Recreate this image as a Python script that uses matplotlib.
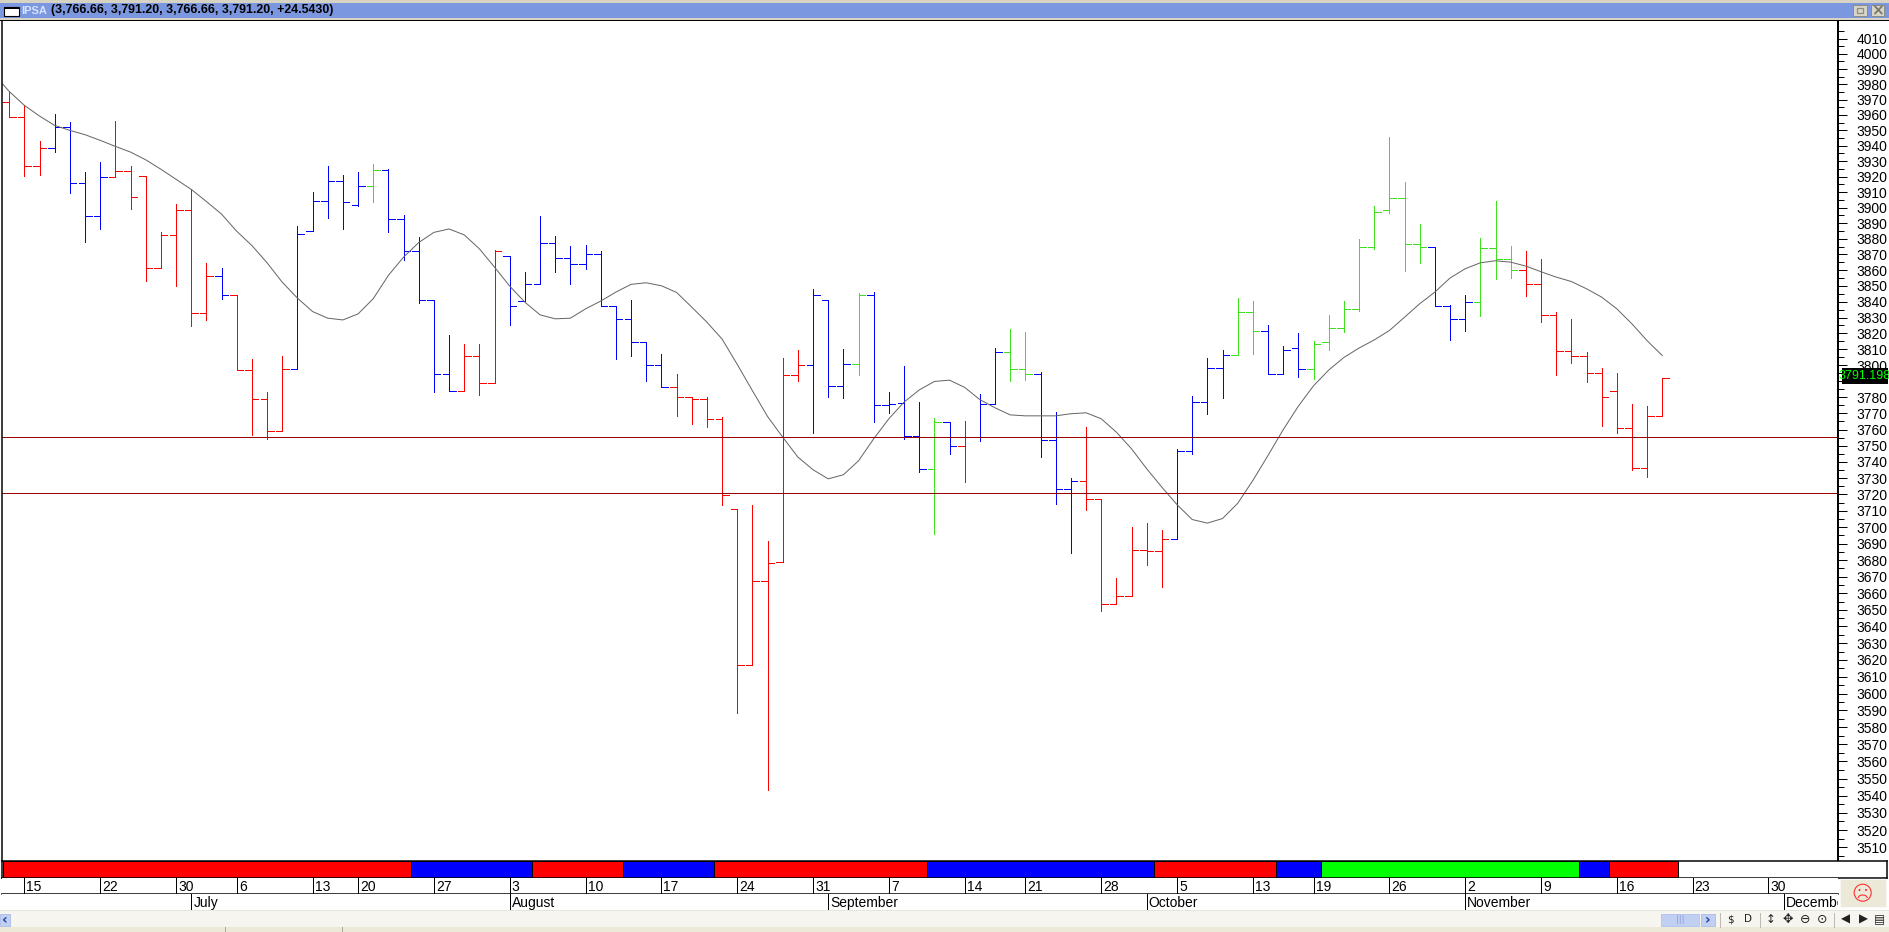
import numpy as np
import matplotlib
matplotlib.use("Agg")
import matplotlib.pyplot as plt
from matplotlib.patches import Rectangle, Circle, Arc
from matplotlib.ticker import FixedLocator, FuncFormatter, NullFormatter

# ---------- data ----------
opens = [3968.5,3958.8,3926.9,3938.6,3952.3,3915.8,3894.5,3919.7,3923.6,3920.6,
         3861.5,3882.5,3898.3,3833.0,3856.4,3844.4,3796.9,3779.0,3759.3,3797.5,
         3885.0,3904.1,3917.1,3901.5,3913.9,3924.3,3892.6,3872.3,3841.2,3794.4,
         3784.0,3805.7,3788.9,3868.9,3840.4,3851.4,3877.4,3867.9,3864.1,3870.4,
         3837.4,3829.2,3814.6,3800.0,3786.4,3780.2,3779.0,3766.7,3711.3,3617.0,
         3667.5,3679.0,3793.8,3800.0,3841.2,3787.0,3800.6,3844.4,3775.3,3776.5,
         3756.2,3735.8,3764.8,3750.0,np.nan,3775.9,3808.2,3797.5,3794.4,3753.7,
         3723.5,3728.4,3717.3,3653.7,3658.5,3686.2,3685.6,3692.8,3746.9,3777.2,
         3798.1,3806.3,3833.6,3821.6,3794.4,3810.8,3797.7,3814.8,3823.5,3835.5,
         3874.8,3898.3,3906.1,3876.7,3874.8,3837.4,3829.2,3840.0,3874.2,3867.2,
         3860.3,3851.0,3831.7,3808.9,3805.7,3795.1,3784.0,3761.1,3736.4,3768.1]
highs = [3974.8,3966.2,3942.7,3960.3,3955.5,3922.6,3929.7,3955.7,3926.5,3920.6,
         3884.6,3902.4,3911.9,3864.3,3861.7,3844.4,3804.0,3783.5,3805.9,3888.4,
         3910.2,3927.1,3921.3,3922.6,3928.4,3924.7,3895.1,3881.4,3841.2,3819.2,
         3813.5,3813.5,3872.9,3868.9,3858.6,3894.7,3882.0,3875.1,3876.3,3871.9,
         3837.4,3841.4,3814.6,3807.2,3794.7,3780.2,3780.2,3767.9,3711.3,3713.8,
         3691.8,3804.7,3809.7,3847.8,3841.2,3810.4,3845.7,3846.3,3783.5,3799.6,
         3777.4,3767.3,3764.8,3765.6,3782.1,3810.8,3822.8,3820.9,3795.7,3771.0,
         3730.2,3761.3,3717.3,3668.9,3700.2,3702.7,3698.4,3748.1,3781.1,3804.7,
         3809.7,3842.1,3840.6,3825.4,3812.3,3820.5,3815.4,3831.3,3840.2,3880.1,
         3900.9,3945.3,3916.7,3889.6,3875.0,3838.1,3844.0,3880.8,3904.3,3875.7,
         3871.9,3867.4,3833.8,3828.8,3808.5,3798.4,3795.3,3776.1,3774.9,3792.0]
lows = [3958.8,3920.2,3920.8,3935.8,3909.1,3877.8,3886.5,3919.7,3899.4,3853.1,
        3861.5,3849.9,3824.5,3828.3,3841.6,3796.9,3756.4,3754.1,3759.3,3797.5,
        3885.0,3893.4,3886.5,3900.9,3903.7,3884.1,3866.4,3839.1,3783.1,3784.0,
        3784.0,3781.3,3788.9,3825.2,3840.4,3851.4,3858.8,3851.2,3860.7,3837.4,
        3804.2,3806.1,3789.9,3786.4,3768.3,3763.4,3761.5,3713.4,3588.8,3617.0,
        3543.0,3679.0,3790.3,3757.8,3780.0,3779.4,3794.0,3764.6,3770.0,3754.1,
        3733.7,3695.6,3744.9,3727.6,3752.9,3775.9,3789.9,3790.5,3743.0,3714.0,
        3684.2,3710.3,3649.3,3653.7,3658.5,3676.8,3663.5,3692.8,3744.9,3769.5,
        3779.4,3806.3,3806.8,3794.4,3794.4,3792.4,3791.2,3809.3,3820.7,3834.0,
        3873.6,3896.8,3859.4,3864.5,3837.4,3815.6,3821.4,3830.9,3854.3,3855.0,
        3843.6,3827.1,3794.2,3801.7,3789.3,3762.1,3757.8,3735.2,3730.7,3768.1]
closes = [3958.8,3926.9,3938.6,3952.3,3915.8,3894.5,3919.7,3923.6,3906.7,3861.5,
          3882.5,3898.3,3833.0,3856.4,3844.4,3796.9,3779.0,3759.3,3797.5,3883.1,
          3904.1,3917.1,3903.5,3913.9,3924.3,3892.6,3872.3,3841.2,3794.4,3784.0,
          3805.7,3788.9,3872.1,3837.4,3851.4,3877.4,3867.9,3864.1,3870.4,3837.4,
          3829.2,3814.6,3800.0,3786.4,3780.2,3779.0,3766.7,3719.8,3617.0,3667.5,
          3678.4,3793.8,3800.0,3844.4,3787.0,3800.6,3844.4,3775.3,3775.9,3756.2,
          3735.8,3764.8,3750.0,np.nan,3775.9,3808.2,3797.5,3794.4,3753.7,3723.5,
          3728.4,3717.3,3653.7,3658.5,3686.2,3685.6,3692.8,3746.9,3777.2,3798.1,
          3806.3,3833.6,3821.6,3794.4,3809.5,3797.7,3813.3,3823.5,3835.5,3874.8,
          3897.0,3906.1,3876.7,3874.8,3837.4,3829.2,3840.0,3874.2,3867.2,3860.3,
          3851.0,3831.7,3808.9,3805.7,3795.1,3780.2,3761.1,3736.4,3768.1,3792.0]
bar_regimes = list("rrrbbbbrrrrrrrbrrrrbbbbbgbbbbbrrrbbbbbbbbbbb"
                   "rrrrrrrrrbbbgbbbbgbrbbggbbbrrrrrrbbbbggbbbgggggggg"
                   "bbbgggrrrrrrrrrr")
ma_x = [-0.45] + list(range(110))
ma_values = [3980.3,3975.3,3966.2,3959.2,3953.1,3949.9,3947.1,3943.4,3939.5,3935.8,3930.8,
             3924.7,3918.2,3911.7,3903.9,3895.8,3884.8,3875.7,3864.7,3852.4,3842.3,
             3833.8,3829.6,3828.5,3832.3,3841.9,3856.7,3868.3,3877.6,3884.1,3886.3,
             3882.5,3873.6,3861.9,3849.9,3839.7,3831.7,3829.2,3829.6,3835.5,3840.4,
             3846.1,3851.0,3852.0,3850.1,3845.9,3836.6,3827.1,3816.5,3800.6,3784.2,
             3768.1,3755.3,3743.0,3735.2,3729.6,3732.1,3740.7,3754.3,3766.7,3777.0,
             3784.6,3789.9,3790.7,3786.2,3778.6,3773.5,3769.1,3768.5,3768.5,3768.5,
             3769.8,3770.4,3766.7,3758.4,3748.1,3735.8,3724.5,3713.8,3704.7,3702.5,
             3705.3,3714.6,3728.6,3744.0,3759.9,3774.5,3787.2,3797.0,3804.9,3810.8,
             3815.9,3821.8,3830.2,3838.7,3846.1,3855.0,3860.9,3864.7,3866.0,3865.1,
             3862.6,3859.0,3855.6,3852.8,3848.2,3842.9,3835.5,3826.0,3815.4,3806.1]
support_levels = [3755.4, 3720.9]
band_edges = [-0.4, 26.5, 34.5, 40.5, 46.5, 60.5, 75.5, 83.5, 86.5, 103.5, 105.5, 110.0]
band_regimes = list("rbrbrbrbgbr")
day_pos = [1, 6, 11, 15, 20, 23, 28, 33, 38, 43, 48, 53, 58, 63, 67, 72, 77, 82, 86, 91, 96, 101, 106, 111, 116]
day_labels = ["15", "22", "30", "6", "13", "20", "27", "3", "10", "17", "24", "31", "7",
              "14", "21", "28", "5", "13", "19", "26", "2", "9", "16", "23", "30"]
month_pos = [12, 33, 54, 75, 96, 117]
month_labels = ["July", "August", "September", "October", "November", "December"]
y_ticks = list(range(3510, 4020, 10))
y_minor = list(range(3505, 4025, 10))
y_hidden_label = 3790
title_name = "IPSA"
title_values = "(3,766.66, 3,791.20, 3,766.66, 3,791.20, +24.5430)"
last_price = "3791.198"

# ---------- style ----------
W, H = 1889, 932
PX = 0.72
COL = {"r": "#ff0000", "b": "#0000ff", "g": "#3fe01f"}
BAND = {"r": "#ff0000", "b": "#0000ff", "g": "#00ff00"}
NARROW = ["Liberation Sans Narrow", "Liberation Sans"]
X0, DX = 9.24, 15.166
def idx(px):
    return (px - X0) / DX
def rect(l, t, r, b):
    return [l / W, 1 - b / H, (r - l) / W, (b - t) / H]

fig = plt.figure(figsize=(W / 100, H / 100), dpi=100, facecolor="white")

# ---------- main price pane ----------
ax = fig.add_axes(rect(2, 21, 1838, 861), zorder=1)
ax.set_yscale("log")
ax.set_xlim(idx(2), idx(1838))
ax.set_ylim(3502.1, 4021.7)
xs = np.arange(len(opens))
tick_len = 0.43
for i in xs:
    c = COL[bar_regimes[i]]
    ax.plot([i, i], [lows[i], highs[i]], color=c, lw=PX, antialiased=False, solid_capstyle="butt")
    if not np.isnan(opens[i]):
        ax.plot([i - tick_len, i], [opens[i], opens[i]], color=c, lw=PX, antialiased=False, solid_capstyle="butt")
    if not np.isnan(closes[i]):
        ax.plot([i, i + tick_len], [closes[i], closes[i]], color=c, lw=PX, antialiased=False, solid_capstyle="butt")
ax.plot(ma_x, ma_values, color="#666666", lw=PX)
for lev in support_levels:
    ax.axhline(lev, color="#990000", lw=PX, antialiased=False)
for s in ["top", "bottom"]:
    ax.spines[s].set_visible(False)
ax.spines["left"].set_linewidth(PX * 1.5)
ax.spines["right"].set_linewidth(PX * 2)
ax.set_xticks([])
ax.yaxis.tick_right()
ax.yaxis.set_major_locator(FixedLocator(y_ticks))
ax.yaxis.set_minor_locator(FixedLocator(y_minor))
ax.yaxis.set_major_formatter(FuncFormatter(lambda v, p: "" if round(v) == y_hidden_label else f"{v:.0f}"))
ax.yaxis.set_minor_formatter(NullFormatter())
ax.tick_params(axis="y", which="major", length=6.5, width=PX, pad=7, labelsize=10)
ax.tick_params(axis="y", which="minor", length=4, width=PX)
for t in ax.get_yticklabels():
    t.set_fontfamily(NARROW)

# ---------- regime band ----------
bx = fig.add_axes(rect(2, 861, 1887, 878), zorder=2)
bx.set_xlim(idx(2), idx(1887))
bx.set_ylim(0, 1)
bx.set_xticks([]); bx.set_yticks([])
for k, reg in enumerate(band_regimes):
    bx.barh(0.5, band_edges[k + 1] - band_edges[k], left=band_edges[k], height=1,
            color=BAND[reg], edgecolor="black", lw=PX)
for s in bx.spines.values():
    s.set_linewidth(PX * 1.5)

# ---------- day row ----------
dx = fig.add_axes(rect(2, 878, 1838, 894), zorder=2)
dx.set_xlim(idx(2), idx(1838))
dx.set_ylim(0, 1)
dx.set_xticks([]); dx.set_yticks([])
for p, lab in zip(day_pos, day_labels):
    dx.axvline(p, color="black", lw=PX, antialiased=False)
    dx.annotate(lab, (p, 0.42), xytext=(1.5, 0), textcoords="offset points", va="center",
                ha="left", fontsize=10, family=NARROW)
for s in ["top", "left", "right"]:
    dx.spines[s].set_visible(False)
dx.spines["bottom"].set_linewidth(PX * 1.5)

# ---------- month row ----------
mx = fig.add_axes(rect(2, 894, 1838, 910), zorder=2)
mx.set_xlim(idx(2), idx(1838))
mx.set_ylim(0, 1)
mx.set_xticks([]); mx.set_yticks([])
for p, lab in zip(month_pos, month_labels):
    mx.axvline(p, color="black", lw=PX, antialiased=False)
    mx.annotate(lab, (p, 0.42), xytext=(1.5, 0), textcoords="offset points", va="center",
                ha="left", fontsize=10, family=NARROW, annotation_clip=True, clip_on=True)
for s in mx.spines.values():
    s.set_visible(False)

# ---------- window chrome (pixel coordinates) ----------
ov = fig.add_axes([0, 0, 1, 1], zorder=5)
ov.set_xlim(0, W); ov.set_ylim(H, 0); ov.axis("off"); ov.patch.set_alpha(0)
def box(l, t, r, b, fc, ec="none", lw=0, z=1):
    ov.add_patch(Rectangle((l, t), r - l, b - t, facecolor=fc, edgecolor=ec, lw=lw, zorder=z))
box(0, 0, W, 3, "#d8d4c4")
box(0, 3, W, 18, "#7b97df")
box(0, 18, W, 20, "#d8d4c4")
box(0, 20, W, 21, "#000000")
box(4, 7, 19, 16, "white", "black", 0.8, 2)
box(4, 6.5, 19, 8.5, "black", z=3)
ov.text(21, 10.5, title_name, color="#d6e2ff", fontsize=8, fontweight="bold", family="Liberation Sans", va="center")
ov.text(51, 10.5, title_values, color="black", fontsize=8.9, fontweight="bold", family="Liberation Sans", va="center")
box(1853, 5, 1867, 16, "#d8d4c8", "#8c8c80", 0.7, 2)
box(1857, 8, 1863, 13, "none", "#8c8c80", 0.9, 3)
box(1871, 5, 1884, 16, "#d8d4c8", "#8c8c80", 0.7, 2)
ov.text(1877.5, 10.5, "×", color="#77776c", fontsize=11, fontweight="bold", ha="center", va="center", zorder=3)
box(1842, 368, 1888, 384, "black", z=4)
ov.text(1865, 376, last_price, color="#00ff00", fontsize=9, family=NARROW, ha="center", va="center", zorder=5)
box(0, 910, W, 911, "#e4e4e0")
box(0, 911, W, 927, "#f6f5ef")
box(0, 927, W, 932, "#ece9d8")
for sx in (225, 342):
    box(sx, 927, sx + 1, 932, "#aca899")
box(0, 914, 10, 926, "#c0cff2", "#9fb4e8", 0.5, 2)
ov.text(5, 919.5, "‹", color="#1f3f9f", fontsize=10, fontweight="bold", ha="center", va="center", zorder=3)
box(1661, 914, 1699, 926, "#c0cff2", "#a6b9ea", 0.5, 2)
ov.text(1680, 920, "|||", color="#8aa0d8", fontsize=6, ha="center", va="center", zorder=3)
box(1701, 914, 1715, 926, "#c0cff2", "#9fb4e8", 0.5, 2)
ov.text(1708, 919.5, "›", color="#1f3f9f", fontsize=10, fontweight="bold", ha="center", va="center", zorder=3)
for sep in (1720, 1760, 1834):
    box(sep, 913, sep + 1, 928, "#bdbab0", z=2)
for ix, glyph, fs in zip((1730, 1748, 1771, 1788, 1805, 1822, 1845, 1863, 1879),
                         ("$", "D", "↕", "✥", "⊖", "⊙", "◀", "▶", "▤"),
                         (7.5, 7.5, 8.5, 9, 9, 9, 8.5, 8.5, 8.5)):
    ov.text(ix, 919.5, glyph, color="#222222", fontsize=fs, ha="center", va="center", zorder=3, family="DejaVu Sans")
box(1840, 879, 1886, 907, "#ece9d8", "#f8f8f4", 0.8, 2)
ov.add_patch(Circle((1862.7, 892.7), 8.5, facecolor="none", edgecolor="#ff3030", lw=0.8, zorder=3))
ov.add_patch(Circle((1859.5, 890), 1.0, facecolor="#ff2020", edgecolor="none", zorder=3))
ov.add_patch(Circle((1866, 890), 1.0, facecolor="#ff2020", edgecolor="none", zorder=3))
ov.add_patch(Arc((1862.7, 898), 9, 6, theta1=180, theta2=360, edgecolor="#ff3030", lw=0.8, zorder=3))

fig.savefig("out.png", dpi=100)
